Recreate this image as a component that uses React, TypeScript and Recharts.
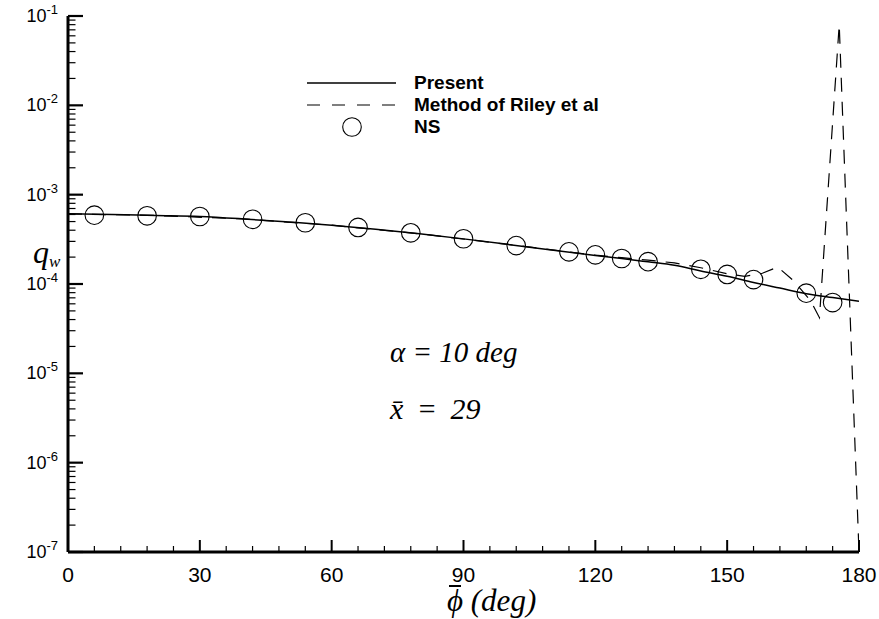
import React from 'react';
import { ComposedChart, Line, Scatter, XAxis, YAxis, Legend } from 'recharts';

// present method (solid)
const presentPhi = [0, 10, 20, 30, 40, 50, 60, 70, 80, 90, 100, 110, 120, 126, 132, 138, 144, 150, 156, 162, 168, 174, 180];
const presentQw = [6.1e-4, 6.0e-4, 5.85e-4, 5.7e-4, 5.35e-4, 4.95e-4, 4.55e-4, 4.1e-4, 3.65e-4, 3.2e-4, 2.78e-4, 2.4e-4, 2.09e-4, 1.93e-4, 1.77e-4, 1.62e-4, 1.4e-4, 1.22e-4, 1.04e-4, 9.0e-5, 7.8e-5, 7.05e-5, 6.4e-5];

// Riley et al (dashed)
const rileyPhi = [0, 20, 40, 60, 80, 100, 120, 126, 132, 138, 144, 150, 154, 158, 161.5, 165, 169, 171, 175.5, 180];
const rileyQw = [6.1e-4, 5.85e-4, 5.35e-4, 4.55e-4, 3.65e-4, 2.78e-4, 2.1e-4, 1.97e-4, 1.85e-4, 1.72e-4, 1.52e-4, 1.3e-4, 1.22e-4, 1.32e-4, 1.55e-4, 1.1e-4, 6.5e-5, 4.2e-5, 8.0e-2, 1.0e-7];

// NS (circles)
const nsPhi = [6, 18, 30, 42, 54, 66, 78, 90, 102, 114, 120, 126, 132, 144, 150, 156, 168, 174];
const nsQw = [5.9e-4, 5.8e-4, 5.7e-4, 5.3e-4, 4.85e-4, 4.3e-4, 3.74e-4, 3.21e-4, 2.69e-4, 2.29e-4, 2.12e-4, 1.93e-4, 1.78e-4, 1.46e-4, 1.28e-4, 1.12e-4, 7.9e-5, 6.2e-5];

const xMajorTicks = [0, 30, 60, 90, 120, 150, 180];
const xMinorTicks = [6, 12, 18, 24, 36, 42, 48, 54, 66, 72, 78, 84, 96, 102, 108, 114, 126, 132, 138, 144, 156, 162, 168, 174];
const yExponents = [-7, -6, -5, -4, -3, -2, -1];
const yMinorMantissas = [2, 3, 4, 5, 6, 7, 8, 9];

const legendItems = ['Present', 'Method of Riley et al', 'NS'];

const pairs = (xs: number[], ys: number[]) => xs.map((x, i) => ({ x, y: ys[i] }));
const presentData = pairs(presentPhi, presentQw);
const rileyData = pairs(rileyPhi, rileyQw);
const nsData = pairs(nsPhi, nsQw);

const yMajorTicks = yExponents.map((e) => Number(`1e${e}`));
const yMinorTicks = yExponents.slice(0, -1).flatMap((e) => yMinorMantissas.map((m) => Number(`${m}e${e}`)));
const yTicks = [...yMajorTicks, ...yMinorTicks];
const xTicks = [...xMajorTicks, ...xMinorTicks].sort((a, b) => a - b);

const sans = '"Liberation Sans", Arial, sans-serif';
const serif = '"Liberation Serif", "Times New Roman", serif';

const XTick = (props: any) => {
  const { x, y, payload } = props;
  const major = xMajorTicks.includes(payload.value);
  return (
    <g>
      <line x1={x} x2={x} y1={y} y2={y - (major ? 12 : 6)} stroke="#000" strokeWidth={major ? 2 : 1.2} />
      {major && (
        <text x={x} y={y + 30} textAnchor="middle" fontFamily={sans} fontSize={21} fill="#000">
          {payload.value}
        </text>
      )}
    </g>
  );
};

const YTick = (props: any) => {
  const { x, y, payload } = props;
  const idx = yMajorTicks.indexOf(payload.value);
  const major = idx >= 0;
  return (
    <g>
      <line x1={x} x2={x + (major ? 15 : 7.5)} y1={y} y2={y} stroke="#000" strokeWidth={major ? 2.2 : 1.2} />
      {major && (
        <text x={x - 10} y={y + 6} textAnchor="end" fontFamily={sans} fontSize={18} fill="#000">
          <tspan>10</tspan>
          <tspan dy={-8} fontSize={13}>{yExponents[idx]}</tspan>
        </text>
      )}
    </g>
  );
};

const NsCircle = (props: any) => (
  <circle cx={props.cx} cy={props.cy} r={9.3} fill="none" stroke="#000" strokeWidth={1.1} />
);

const LegendBox = () => (
  <div style={{ fontFamily: sans, fontWeight: 'bold', fontSize: 19, color: '#000' }}>
    {legendItems.map((name, i) => (
      <div key={name} style={{ display: 'flex', alignItems: 'center', height: 22 }}>
        <svg width={107} height={22}>
          {i === 0 && <line x1={0} x2={89} y1={11} y2={11} stroke="#000" strokeWidth={1.4} />}
          {i === 1 && <line x1={0} x2={89} y1={11} y2={11} stroke="#000" strokeWidth={1.2} strokeDasharray="13 12" />}
          {i === 2 && <circle cx={45} cy={11} r={9.3} fill="none" stroke="#000" strokeWidth={1.1} />}
        </svg>
        <span>{name}</span>
      </div>
    ))}
  </div>
);

export default function App() {
  return (
    <div style={{ position: 'absolute', left: 0, top: 0, width: 879, height: 619, background: '#fff' }}>
      <ComposedChart width={879} height={619} margin={{ top: 16, right: 20, bottom: 0, left: 0 }}>
        <XAxis
          type="number"
          dataKey="x"
          domain={[0, 180]}
          ticks={xTicks}
          interval={0}
          height={67}
          tickSize={0}
          tickMargin={0}
          tick={<XTick />}
          axisLine={{ stroke: '#000', strokeWidth: 3 }}
          tickLine={false}
          allowDataOverflow
        />
        <YAxis
          type="number"
          scale="log"
          domain={[1e-7, 1e-1]}
          ticks={yTicks}
          interval={0}
          width={68}
          tickSize={0}
          tickMargin={0}
          tick={<YTick />}
          axisLine={{ stroke: '#000', strokeWidth: 3 }}
          tickLine={false}
          allowDataOverflow
        />
        <Legend
          layout="vertical"
          align="center"
          verticalAlign="middle"
          content={<LegendBox />}
          wrapperStyle={{ top: 72, left: 307, width: 320, height: 66 }}
        />
        <Line
          data={rileyData}
          dataKey="y"
          type="linear"
          stroke="#000"
          strokeWidth={1.2}
          strokeDasharray="14 10"
          dot={false}
          isAnimationActive={false}
          legendType="none"
        />
        <Line
          data={presentData}
          dataKey="y"
          type="monotone"
          stroke="#000"
          strokeWidth={1.5}
          dot={false}
          isAnimationActive={false}
          legendType="none"
        />
        <Scatter data={nsData} dataKey="y" shape={<NsCircle />} isAnimationActive={false} legendType="none" />
      </ComposedChart>

      <div style={{ position: 'absolute', left: 33, top: 236, fontFamily: serif, fontStyle: 'italic', fontSize: 32, lineHeight: '32px' }}>
        q<span style={{ fontSize: 17, position: 'relative', top: 4 }}>w</span>
      </div>
      <div style={{ position: 'absolute', left: 390, top: 335, fontFamily: serif, fontStyle: 'italic', fontSize: 29, lineHeight: '34px', whiteSpace: 'pre' }}>
        {'α = 10 deg'}
      </div>
      <div style={{ position: 'absolute', left: 390, top: 392, fontFamily: serif, fontStyle: 'italic', fontSize: 30, lineHeight: '34px', whiteSpace: 'pre', wordSpacing: 6 }}>
        {'x\u0304 = 29'}
      </div>
      <div style={{ position: 'absolute', left: 447, top: 589, fontFamily: serif, fontStyle: 'italic', fontSize: 31, lineHeight: '24px', whiteSpace: 'pre' }}>
        <span style={{ position: 'relative', display: 'inline-block' }}>
          {'\u03d5'}
          <span style={{ position: 'absolute', left: 2, top: -4, width: 12, height: 1.6, background: '#000' }} />
        </span>
        {' (deg)'}
      </div>
    </div>
  );
}
